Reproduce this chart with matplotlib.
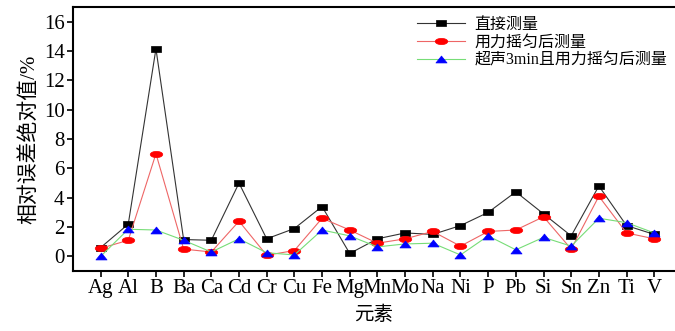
import matplotlib.pyplot as plt
import numpy as np
from matplotlib.path import Path
from matplotlib.transforms import Affine2D

plt.rcParams['font.family'] = ['Liberation Serif', 'Noto Sans CJK SC']

elements = ['Ag', 'Al', 'B', 'Ba', 'Ca', 'Cd', 'Cr', 'Cu', 'Fe', 'Mg', 'Mn',
            'Mo', 'Na', 'Ni', 'P', 'Pb', 'Si', 'Sn', 'Zn', 'Ti', 'V']
direct = [0.6, 2.2, 14.15, 1.15, 1.1, 5.0, 1.2, 1.9, 3.4, 0.2, 1.2,
          1.6, 1.5, 2.1, 3.0, 4.4, 2.9, 1.4, 4.8, 2.1, 1.5]
shaken = [0.55, 1.1, 7.0, 0.5, 0.3, 2.4, 0.08, 0.4, 2.6, 1.8, 0.9,
          1.2, 1.7, 0.7, 1.7, 1.8, 2.7, 0.5, 4.1, 1.6, 1.2]
ultrasonic = [0.0, 1.85, 1.8, 1.1, 0.3, 1.2, 0.25, 0.1, 1.8, 1.4, 0.65,
              0.85, 0.9, 0.1, 1.4, 0.45, 1.3, 0.7, 2.6, 2.3, 1.6]

# flattened markers, wider than tall like in the original figure
sq = Path([(-1, -0.55), (1, -0.55), (1, 0.55), (-1, 0.55), (-1, -0.55)],
          [Path.MOVETO, Path.LINETO, Path.LINETO, Path.LINETO, Path.CLOSEPOLY])
ell = Affine2D().scale(1, 0.5).transform_path(Path.unit_circle())
tri = Path([(-1, -0.62), (1, -0.62), (0, 0.62), (-1, -0.62)],
           [Path.MOVETO, Path.LINETO, Path.LINETO, Path.CLOSEPOLY])

x = np.arange(len(elements))

fig = plt.figure(figsize=(6.75, 3.31), dpi=100)
ax = fig.add_axes([0.108, 0.181, 0.892, 0.798])

ax.plot(x, direct, color='#333333', lw=0.8, marker=sq, ms=7.5,
        mfc='black', mec='black', mew=0.5, label='直接测量')
ax.plot(x, shaken, color='#ee6666', lw=0.8, marker=ell, ms=9,
        mfc='red', mec='red', mew=0.5, label='用力摇匀后测量')
ax.plot(x, ultrasonic, color='#77dd77', lw=0.8, marker=tri, ms=8,
        mfc='blue', mec='blue', mew=0.5, label='超声3min且用力摇匀后测量')

ax.set_xlim(-1, 20.75)
ax.set_ylim(-1, 17)
ax.set_xticks(x)
ax.set_xticklabels(elements, fontsize=15)
ax.set_yticks(range(0, 17, 2))
ax.tick_params(axis='y', labelsize=15, length=4, width=1.2, pad=2)
ax.tick_params(axis='x', length=4, width=1.2, pad=2)

for s in ['left', 'bottom', 'top']:
    ax.spines[s].set_linewidth(1.5)
ax.spines['right'].set_visible(False)

ax.set_xlabel('元素', fontsize=14, labelpad=5)
ax.set_ylabel('相对误差绝对值/%', fontsize=15, labelpad=3)

ax.legend(loc='upper left', bbox_to_anchor=(0.555, 1.0), frameon=False,
          fontsize=11.5, handlelength=3, handletextpad=0.6,
          labelspacing=0.12, borderaxespad=0.2)

fig.savefig('out.png', dpi=100)
